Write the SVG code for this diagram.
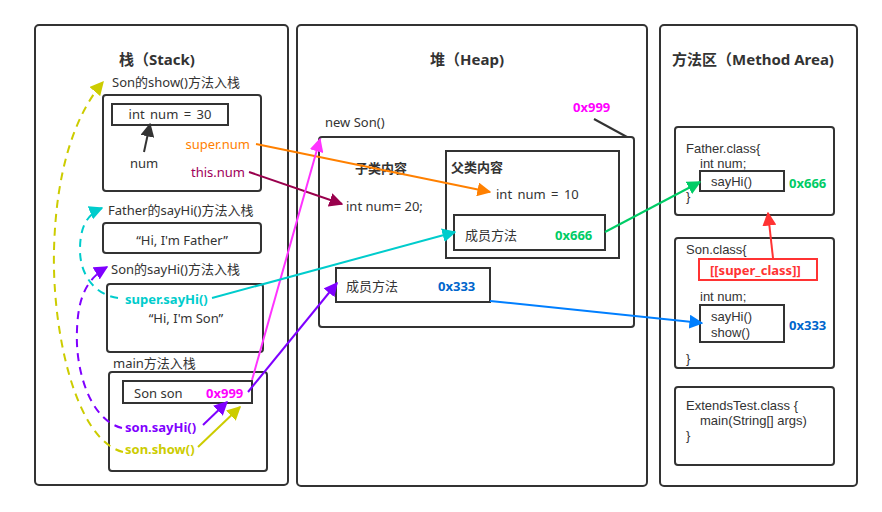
<svg xmlns="http://www.w3.org/2000/svg" width="882" height="512" viewBox="0 0 882 512">
<style>
text{font-family:"Noto Sans","Noto Sans CJK SC",sans-serif;font-size:13px;fill:#333}
.t{font-size:15px;font-weight:bold;text-anchor:middle}
.b{font-weight:bold}
.cls{font-family:"Liberation Sans","Noto Sans",sans-serif}
.box{fill:#fff;stroke:#333;stroke-width:2}
.c{fill:none;stroke-width:2}
.d{fill:none;stroke-width:2;stroke-dasharray:8 6}
</style>
<defs>
<marker id="aBk" viewBox="0 0 10 10" refX="9" refY="5" markerWidth="7" markerHeight="7" orient="auto"><path d="M0,0L10,5L0,10z" fill="#333"/></marker>
<marker id="aOr" viewBox="0 0 10 10" refX="9" refY="5" markerWidth="7" markerHeight="7" orient="auto"><path d="M0,0L10,5L0,10z" fill="#FF8000"/></marker>
<marker id="aMr" viewBox="0 0 10 10" refX="9" refY="5" markerWidth="7" markerHeight="7" orient="auto"><path d="M0,0L10,5L0,10z" fill="#99004D"/></marker>
<marker id="aMg" viewBox="0 0 10 10" refX="9" refY="5" markerWidth="7" markerHeight="7" orient="auto"><path d="M0,0L10,5L0,10z" fill="#FF33FF"/></marker>
<marker id="aPu" viewBox="0 0 10 10" refX="9" refY="5" markerWidth="7" markerHeight="7" orient="auto"><path d="M0,0L10,5L0,10z" fill="#7F00FF"/></marker>
<marker id="aCy" viewBox="0 0 10 10" refX="9" refY="5" markerWidth="7" markerHeight="7" orient="auto"><path d="M0,0L10,5L0,10z" fill="#00CCCC"/></marker>
<marker id="aYe" viewBox="0 0 10 10" refX="9" refY="5" markerWidth="7" markerHeight="7" orient="auto"><path d="M0,0L10,5L0,10z" fill="#CCCC00"/></marker>
<marker id="aGr" viewBox="0 0 10 10" refX="9" refY="5" markerWidth="7" markerHeight="7" orient="auto"><path d="M0,0L10,5L0,10z" fill="#00CC66"/></marker>
<marker id="aBl" viewBox="0 0 10 10" refX="9" refY="5" markerWidth="7" markerHeight="7" orient="auto"><path d="M0,0L10,5L0,10z" fill="#007FFF"/></marker>
<marker id="aRd" viewBox="0 0 10 10" refX="9" refY="5" markerWidth="7" markerHeight="7" orient="auto"><path d="M0,0L10,5L0,10z" fill="#FF3333"/></marker>
</defs>
<rect width="882" height="512" fill="#fff"/>

<g id="stack">
<rect class="box" x="35" y="25" width="253" height="460" rx="4"/>
<text class="t" x="157" y="65">栈（Stack)</text>
</g>
<g id="heap">
<rect class="box" x="297" y="25" width="350" height="461" rx="4"/>
<text class="t" x="467" y="65">堆（Heap)</text>
</g>
<g id="method-area">
<rect class="box" x="660" y="25" width="197" height="461" rx="4"/>
<text class="t" x="753" y="65">方法区（Method Area)</text>
</g>

<g id="frame-show">
<text x="112" y="87">Son的show()方法入栈</text>
<rect class="box" x="103" y="95" width="158" height="96" rx="3"/>
<rect class="box" x="112" y="104" width="116" height="21"/>
<text x="170" y="119" text-anchor="middle" word-spacing="2">int num = 30</text>
<text x="144" y="168" text-anchor="middle">num</text>
<text x="250" y="149" text-anchor="end" style="fill:#FF8000">super.num</text>
<text x="245" y="177" text-anchor="end" style="fill:#A0005A">this.num</text>
</g>
<g id="frame-father-sayhi">
<text x="108" y="215">Father的sayHi()方法入栈</text>
<rect class="box" x="103" y="223" width="158" height="30" rx="3"/>
<text x="182" y="245" text-anchor="middle">“Hi, I'm Father”</text>
</g>
<g id="frame-son-sayhi">
<text x="111" y="274">Son的sayHi()方法入栈</text>
<rect class="box" x="107" y="284" width="156" height="68" rx="3"/>
<text class="b" x="125" y="304" style="fill:#00CCCC">super.sayHi()</text>
<text x="186" y="323" text-anchor="middle">“Hi, I'm Son”</text>
</g>
<g id="frame-main">
<text x="113" y="368">main方法入栈</text>
<rect class="box" x="109" y="372" width="158" height="99" rx="3"/>
<rect class="box" x="123" y="381" width="129" height="22"/>
<text x="134" y="398">Son son</text>
<text class="b" x="206" y="398" style="fill:#FF00FF">0x999</text>
<text class="b" x="125" y="432" style="fill:#7F00FF">son.sayHi()</text>
<text class="b" x="125" y="454" style="fill:#CCCC00">son.show()</text>
</g>

<g id="new-son">
<text class="b" x="573" y="112" style="fill:#FF00FF">0x999</text>
<text x="325" y="127">new Son()</text>
<rect class="box" x="319" y="137" width="315" height="190" rx="3"/>
<text class="b" x="355" y="173">子类内容</text>
<text x="346" y="211">int num= 20;</text>
</g>
<g id="father-part">
<rect class="box" x="446" y="151" width="173" height="107"/>
<text class="b" x="451" y="172">父类内容</text>
<text x="496" y="199" word-spacing="2">int num = 10</text>
<rect class="box" x="454" y="215" width="151" height="35"/>
<text x="465" y="240">成员方法</text>
<text class="b" x="555" y="240" style="fill:#00CC66">0x666</text>
</g>
<g id="son-method">
<rect class="box" x="336" y="268" width="154" height="34"/>
<text x="346" y="291">成员方法</text>
<text class="b" x="438" y="291" style="fill:#0066CC">0x333</text>
</g>

<g id="father-class">
<rect class="box" x="675" y="127" width="159" height="88" rx="3"/>
<rect class="box" x="700" y="171" width="84" height="20"/>
<text class="cls" x="686" y="153">Father.class{</text>
<text class="cls" x="700" y="168">int num;</text>
<text class="cls" x="711" y="186">sayHi()</text>
<text class="cls" x="686" y="201">}</text>
<text class="b" x="789" y="188" style="fill:#00CC66">0x666</text>
</g>
<g id="son-class">
<rect class="box" x="675" y="238" width="159" height="130" rx="3"/>
<rect x="699" y="259" width="118" height="21" fill="#fff" stroke="#FF3333" stroke-width="2"/>
<text class="b" x="710" y="275" style="fill:#FF3333">[[super_class]]</text>
<rect class="box" x="700" y="305" width="84" height="37"/>
<text class="cls" x="686" y="254">Son.class{</text>
<text class="cls" x="700" y="301">int num;</text>
<text class="cls" x="711" y="321">sayHi()</text>
<text class="cls" x="711" y="337">show()</text>
<text class="cls" x="686" y="363">}</text>
<text class="b" x="789" y="330" style="fill:#0066CC">0x333</text>
</g>
<g id="extendstest-class">
<rect class="box" x="675" y="387" width="159" height="78" rx="3"/>
<text class="cls" x="686" y="410">ExtendsTest.class {</text>
<text class="cls" x="700" y="425">main(String[] args)</text>
<text class="cls" x="686" y="440">}</text>
</g>

<g id="connectors">
<path class="c" stroke="#333" d="M594,119L627,137"/>
<path class="c" stroke="#333" marker-end="url(#aBk)" d="M144,152L150,124"/>
<path class="c" stroke="#FF8000" marker-end="url(#aOr)" d="M256,144L490,192"/>
<path class="c" stroke="#99004D" marker-end="url(#aMr)" d="M249,172L342,204"/>
<path class="c" stroke="#FF33FF" marker-end="url(#aMg)" d="M252,380L320,139"/>
<path class="c" stroke="#7F00FF" marker-end="url(#aPu)" d="M248,392L337,283"/>
<path class="c" stroke="#00CCCC" marker-end="url(#aCy)" d="M212,298L455,232"/>
<path class="c" stroke="#00CC66" marker-end="url(#aGr)" d="M605,232L700,182"/>
<path class="c" stroke="#007FFF" marker-end="url(#aBl)" d="M490,301L702,323"/>
<path class="c" stroke="#FF3333" marker-end="url(#aRd)" d="M773,258L768,213"/>
<path class="c" stroke="#7F00FF" marker-end="url(#aPu)" d="M203,425L227,402"/>
<path class="c" stroke="#CCCC00" marker-end="url(#aYe)" d="M198,447L240,407"/>
<path class="d" stroke="#CCCC00" marker-end="url(#aYe)" d="M123,452C75,440 52,330 54,250C56,170 75,115 103,82"/>
<path class="d" stroke="#00CCCC" marker-end="url(#aCy)" d="M118,298C95,295 80,275 80,250C80,230 85,215 102,208"/>
<path class="d" stroke="#7F00FF" marker-end="url(#aPu)" d="M122,428C90,420 75,370 77,330C78,300 85,280 107,267"/>
</g>
</svg>
